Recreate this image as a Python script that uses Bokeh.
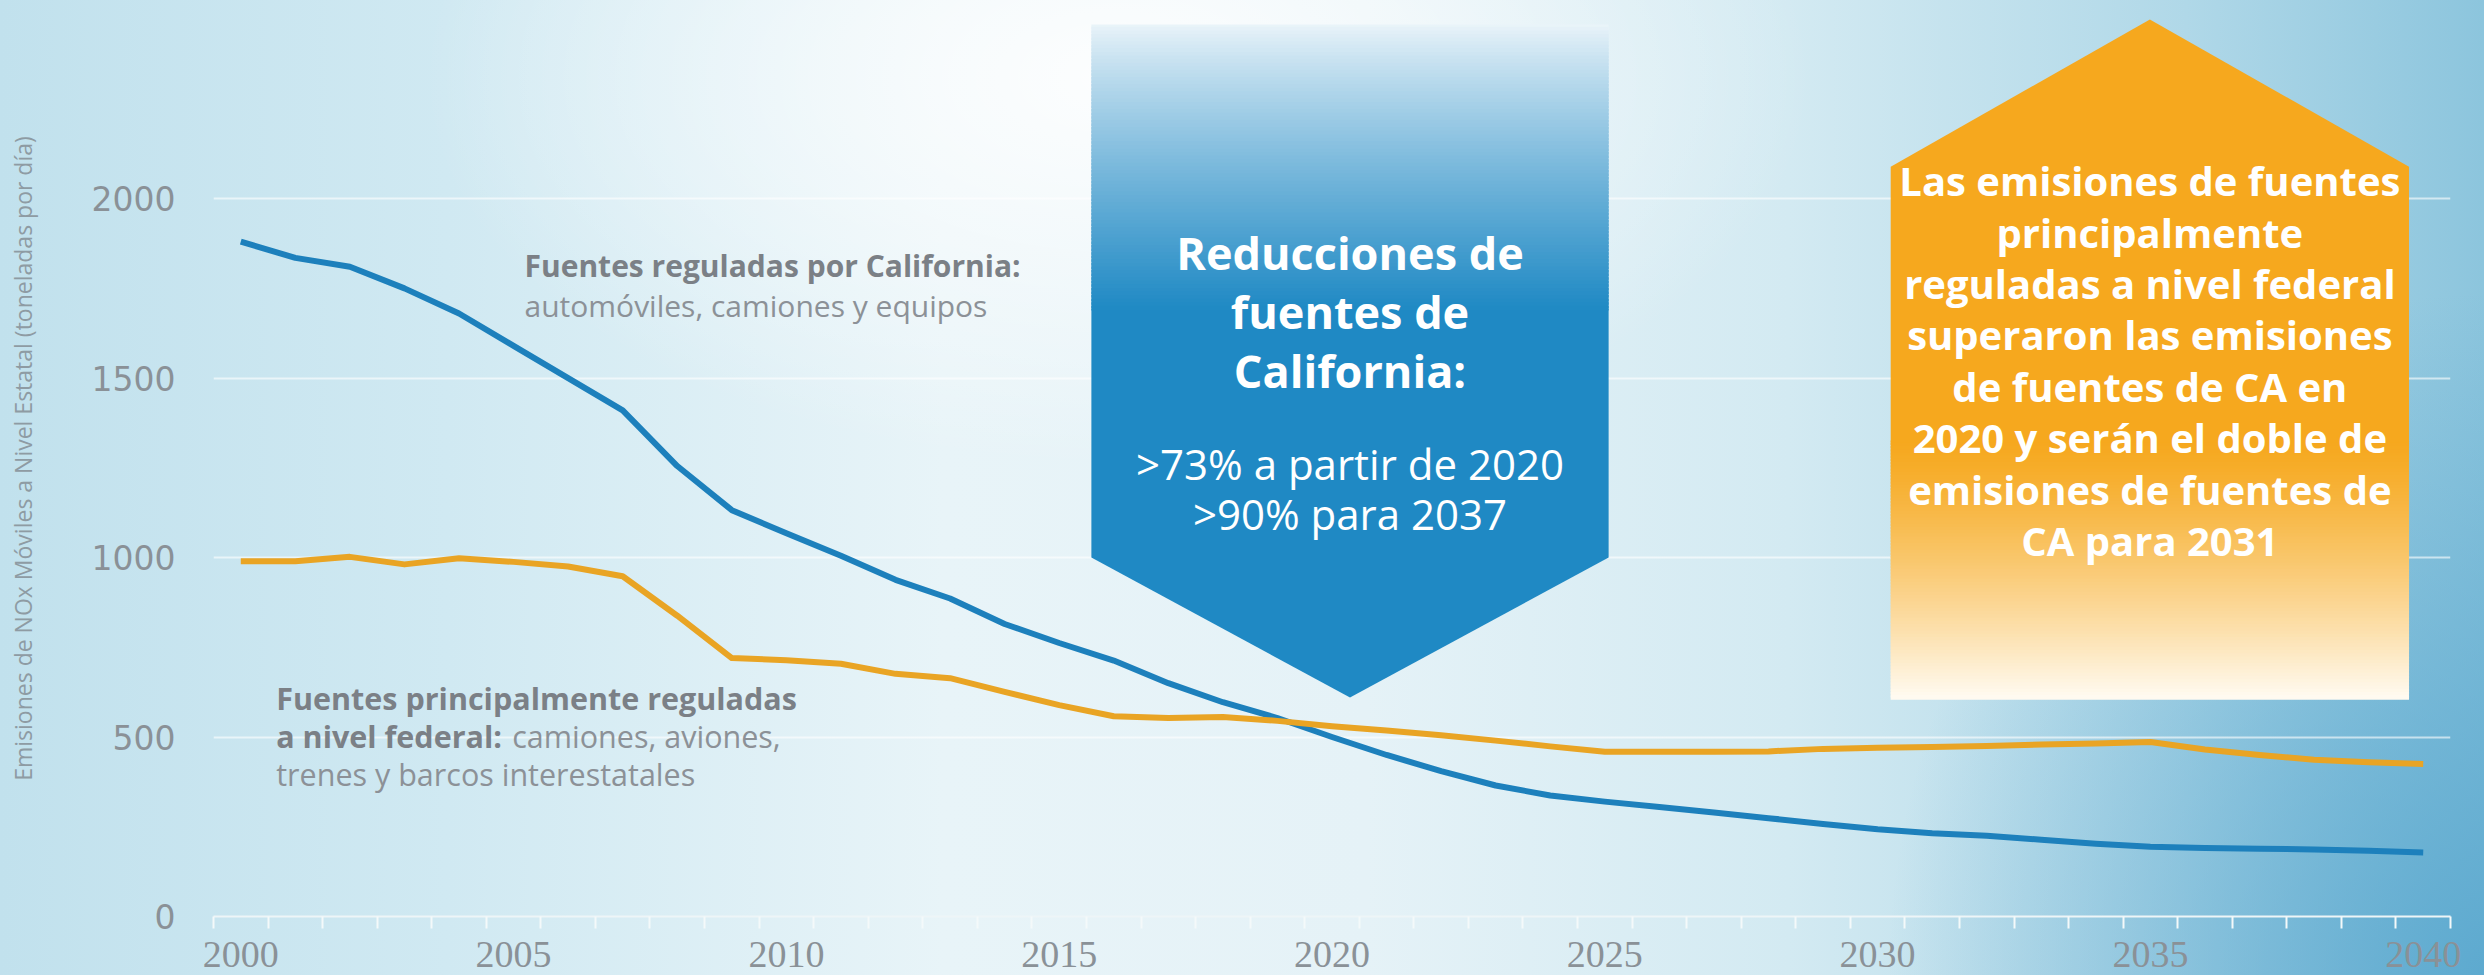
import numpy as np
from bokeh.plotting import figure
from bokeh.models import Range1d, FixedTicker, GlobalInlineStyleSheet
from bokeh.core.properties import value
from bokeh.embed import file_html
from bokeh.resources import INLINE

# ---------------- data ----------------
years = list(range(2000, 2041))
ca_regulated = [1880, 1835, 1810, 1750, 1680, 1590, 1500, 1410, 1255, 1132,
                1068, 1005, 938, 886, 815, 762, 713, 650, 597, 553,
                500, 450, 405, 365, 337, 320, 305, 290, 274, 258,
                243, 232, 225, 214, 203, 194, 191, 189, 187, 183, 178]
federal_regulated = [990, 990, 1002, 981, 998, 988, 975, 948, 838, 720,
                     714, 704, 676, 664, 626, 589, 558, 553, 556, 545,
                     530, 518, 505, 490, 474, 459, 459, 459, 460, 467,
                     470, 472, 475, 479, 482, 486, 465, 450, 437, 430, 425]
y_ticks = [0, 500, 1000, 1500, 2000]
x_ticks = [2000, 2005, 2010, 2015, 2020, 2025, 2030, 2035, 2040]
y_title = "Emisiones de NOx Móviles a Nivel Estatal (toneladas por día)"

blue_title = ["Reducciones de", "fuentes de", "California:"]
blue_body = [">73% a partir de 2020", ">90% para 2037"]
orange_text = ["Las emisiones de fuentes", "principalmente", "reguladas a nivel federal",
               "superaron las emisiones", "de fuentes de CA en", "2020 y serán el doble de",
               "emisiones de fuentes de", "CA para 2031"]
ca_label = ["Fuentes reguladas por California:", "automóviles, camiones y equipos"]
fed_label_bold = ["Fuentes principalmente reguladas", "a nivel federal:"]
fed_label_reg = ["camiones, aviones,", "trenes y barcos interestatales"]

# ---------------- styles / layout ----------------
BLUE_LINE = "#1d80bc"
ORANGE_LINE = "#e9a424"
BLUE_BOX = (31, 137, 196)
BLUE_TOP = (236, 245, 250)
ORANGE_BOX = (246, 168, 30)
ORANGE_BOTTOM = (255, 251, 242)
GRAY_B = "#7b8086"
GRAY_R = "#8c9197"
TICK_GRAY = "#8a9197"
FONT = "Open Sans"

bg_css = """
html {
  min-height: 100%;
  background:
    radial-gradient(ellipse 28% 40% at 45% 8%, rgba(255,255,255,0.9), rgba(255,255,255,0) 100%),
    radial-gradient(ellipse 24% 70% at 100% 100%, rgba(85,165,205,0.85), rgba(85,165,205,0) 100%),
    linear-gradient(to right, #c1e1ed 0%, #d0e9f2 18%, #e8f4f8 38%, #e5f2f7 55%, #d3eaf2 72%, #b0d8e8 88%, #8cc5dd 100%);
}
body { background: transparent; }
"""

p = figure(width=2484, height=975,
           x_range=Range1d(1999.5, 2040.5), y_range=Range1d(0, 2552),
           output_backend="svg", toolbar_location=None,
           min_border_left=213, min_border_right=34, min_border_top=0, min_border_bottom=59)
p.stylesheets = [GlobalInlineStyleSheet(css=bg_css)]
p.background_fill_color = None
p.border_fill_color = None
p.outline_line_color = None

# grid
p.xgrid.grid_line_color = None
p.ygrid.ticker = FixedTicker(ticks=y_ticks)
p.ygrid.grid_line_color = "#ffffff"
p.ygrid.grid_line_alpha = 0.6
p.ygrid.grid_line_width = 2

# y axis
p.yaxis.ticker = FixedTicker(ticks=y_ticks)
p.yaxis.axis_line_color = None
p.yaxis.major_tick_line_color = None
p.yaxis.minor_tick_line_color = None
p.yaxis.major_tick_out = 0
p.yaxis.major_tick_in = 0
p.yaxis.major_label_standoff = 38
p.yaxis.major_label_text_font = "DejaVu Sans"
p.yaxis.major_label_text_font_size = "33px"
p.yaxis.major_label_text_color = TICK_GRAY
p.yaxis.axis_label = y_title
p.yaxis.axis_label_standoff = 50
p.yaxis.axis_label_text_font = FONT
p.yaxis.axis_label_text_font_size = "23px"
p.yaxis.axis_label_text_font_style = "normal"
p.yaxis.axis_label_text_color = "#8e9ba3"

# x axis
p.xaxis.ticker = FixedTicker(ticks=x_ticks, minor_ticks=[y + 0.5 for y in range(1999, 2041)])
p.xaxis.axis_line_color = "#eef5f7"
p.xaxis.axis_line_width = 2
p.xaxis.major_tick_line_color = None
p.xaxis.major_tick_out = 0
p.xaxis.major_tick_in = 0
p.xaxis.minor_tick_line_color = "#f4f9fa"
p.xaxis.minor_tick_line_width = 2
p.xaxis.minor_tick_out = 12
p.xaxis.minor_tick_in = 0
p.xaxis.major_label_standoff = 13
p.xaxis.major_label_text_font = "Liberation Sans Narrow"
p.xaxis.major_label_text_font_size = "38px"
p.xaxis.major_label_text_color = TICK_GRAY


# ---------------- callout shapes ----------------
def gradient_strips(x0, x1, v_start, v_end, c_start, c_end, n=70, power=1.0):
    edges = np.linspace(v_start, v_end, n + 1)
    eps = abs(v_end - v_start) / n * 0.35
    t = (np.arange(n) + 0.5) / n
    t = t ** power
    cs = np.array(c_start, dtype=float)
    ce = np.array(c_end, dtype=float)
    colors = []
    for tt in t:
        c = cs + (ce - cs) * tt
        colors.append("#%02x%02x%02x" % tuple(int(round(v)) for v in c))
    lo = np.minimum(edges[:-1], edges[1:]) - eps
    hi = np.maximum(edges[:-1], edges[1:]) + eps
    lo = np.clip(lo, min(v_start, v_end), None)
    hi = np.clip(hi, None, max(v_start, v_end))
    p.quad(left=[x0] * n, right=[x1] * n, bottom=lo, top=hi,
           fill_color=colors, line_color=None)


def hexc(c):
    return "#%02x%02x%02x" % c


# blue down-arrow pentagon
bx0, bx1, bxt = 2015.59, 2025.07, 2020.33
b_top, b_grad, b_sh, b_tip = 2485, 1688, 1000, 610
p.patch([bx0, bx1, bx1, bxt, bx0], [b_grad + 5, b_grad + 5, b_sh, b_tip, b_sh],
        fill_color=hexc(BLUE_BOX), line_color=None)
gradient_strips(bx0, bx1, b_top, b_grad, BLUE_TOP, BLUE_BOX, n=80, power=0.85)

# orange house pentagon
ox0, ox1, oxt = 2030.24, 2039.74, 2034.99
o_peak, o_sh, o_grad, o_bot = 2499, 2089, 1326, 604
p.patch([ox0, oxt, ox1, ox1, ox0], [o_sh, o_peak, o_sh, o_grad - 5, o_grad - 5],
        fill_color=hexc(ORANGE_BOX), line_color=None)
gradient_strips(ox0, ox1, o_grad, o_bot, ORANGE_BOX, ORANGE_BOTTOM, n=80, power=1.3)

# ---------------- series ----------------
p.line(years, ca_regulated, line_color=BLUE_LINE, line_width=6, line_join="round")
p.line(years, federal_regulated, line_color=ORANGE_LINE, line_width=6, line_join="round")

# ---------------- texts ----------------
p.text(x=[bxt] * 3, y=[1850, 1685, 1521], text=blue_title, text_font=value(FONT),
       text_font_style="bold", text_font_size="45px", text_color="white",
       text_align="center", text_baseline="middle")
p.text(x=[bxt] * 2, y=[1262, 1123], text=blue_body, text_font=value(FONT),
       text_font_size="42px", text_color="white",
       text_align="center", text_baseline="middle")
oy = [2050 - 143.2 * i for i in range(len(orange_text))]
p.text(x=[oxt] * len(orange_text), y=oy, text=orange_text, text_font=value(FONT),
       text_font_style="bold", text_font_size="40px", text_color="white",
       text_align="center", text_baseline="middle")

p.text(x=[2005.2], y=[1813], text=[ca_label[0]], text_font=value(FONT),
       text_font_style="bold", text_font_size="30px", text_color=GRAY_B,
       text_align="left", text_baseline="middle")
p.text(x=[2005.2], y=[1702], text=[ca_label[1]], text_font=value(FONT),
       text_font_size="30px", text_color=GRAY_R,
       text_align="left", text_baseline="middle")
p.text(x=[2000.65, 2000.65], y=[610, 504], text=fed_label_bold, text_font=value(FONT),
       text_font_style="bold", text_font_size="30.5px", text_color=GRAY_B,
       text_align="left", text_baseline="middle")
p.text(x=[2000.65], y=[504], x_offset=[236], text=[fed_label_reg[0]], text_font=value(FONT),
       text_font_size="30.5px", text_color=GRAY_R,
       text_align="left", text_baseline="middle")
p.text(x=[2000.65], y=[398], text=[fed_label_reg[1]], text_font=value(FONT),
       text_font_size="30.5px", text_color=GRAY_R,
       text_align="left", text_baseline="middle")

open("out.html", "w").write(file_html(p, INLINE))
